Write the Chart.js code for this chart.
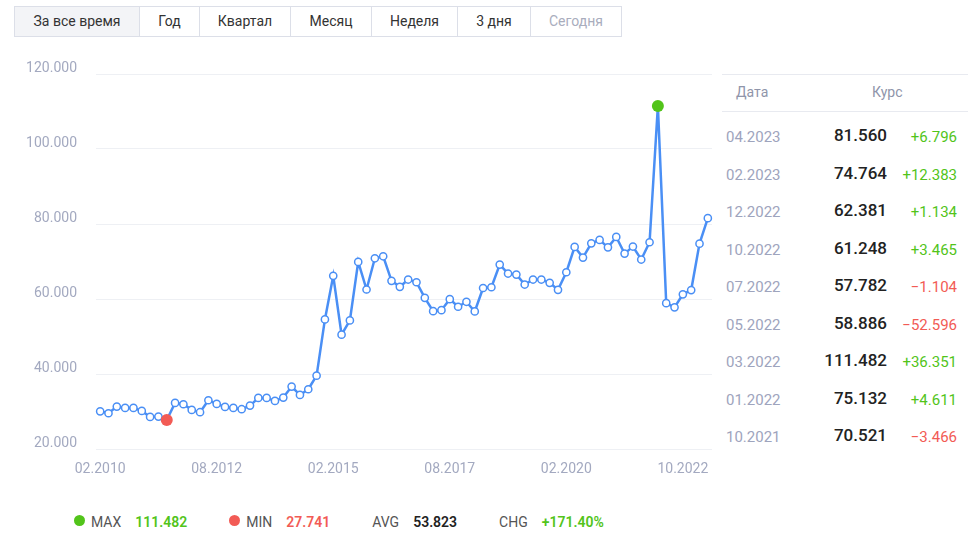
<!DOCTYPE html>
<html>
<head>
<meta charset="utf-8">
<script src="https://cdn.jsdelivr.net/npm/chart.js@4/dist/chart.umd.min.js"></script>
<style>
  body { margin: 0; background: #fff; font-family: Roboto, "Noto Sans", Arial, sans-serif; width: 971px; height: 545px; position: relative; overflow: hidden; }
  #tabs { position: absolute; left: 14px; top: 6px; display: flex; border: 1px solid #dcdfe8; }
  #tabs div { height: 29px; line-height: 29px; text-align: center; font-size: 14px; color: #333; border-left: 1px solid #dcdfe8; }
  #tabs div:first-child { border-left: none; background: #f3f4f7; }
  #tabs div.off { color: #a9adbd; }
  #chart-wrap { position: absolute; left: 0; top: 50px; width: 720px; height: 440px; }
  #panel { position: absolute; left: 722px; top: 74px; width: 246px; border-top: 1px solid #e8eaf0; }
  #panel .head { height: 36px; border-bottom: 1px solid #e8eaf0; position: relative; font-size: 14px; color: #8f95aa; }
  #panel .head span { position: absolute; top: 9px; }
  #rows { padding-top: 6px; }
  .row { height: 37.5px; position: relative; }
  .row span { position: absolute; top: 9px; white-space: nowrap; }
  .row .d { left: 4px; font-size: 15px; color: #9ea4bd; top: 10px; }
  .row .v { right: 81px; font-size: 17px; font-weight: 500; color: #222; top: 7px; }
  .row .c { right: 11px; font-size: 15px; top: 10px; }
  #stats { position: absolute; left: 74px; top: 514px; font-size: 14px; color: #555; display: flex; align-items: center; }
  #stats .dot { width: 11px; height: 11px; border-radius: 50%; display: inline-block; margin-right: 6px; position: relative; top: -2px; }
  #stats b { font-weight: 600; margin-left: 14px; margin-right: 42px; }
</style>
</head>
<body>
<div id="tabs"></div>
<div id="chart-wrap"><canvas id="chart" width="720" height="440"></canvas></div>
<div id="panel">
  <div class="head"><span style="left:14px">Дата</span><span style="left:150px">Курс</span></div>
  <div id="rows"></div>
</div>
<div id="stats"></div>
<script>
// вкладки периода
const tabNames = ["За все время", "Год", "Квартал", "Месяц", "Неделя", "3 дня", "Сегодня"];
const tabWidths = [124, 59, 90, 80, 85, 72, 90];

// курс, точка за точкой (02.2010 -> 04.2023)
const rates = [
  30.05, 29.54, 31.32, 30.95, 30.95, 30.16, 28.56, 28.65, 27.741, 32.29,
  31.94, 30.43, 29.81, 33.00, 32.03, 31.23, 30.95, 30.61, 31.58, 33.62,
  33.62, 32.82, 33.71, 36.64, 34.42, 35.93, 39.56, 54.55, 66.17, 50.48,
  54.28, 69.90, 62.53, 70.86, 71.39, 64.85, 63.25, 65.19, 64.47, 60.32,
  56.76, 57.02, 59.95, 57.93, 59.26, 56.68, 62.93, 63.14, 69.18, 66.79,
  66.52, 63.86, 65.19, 65.19, 64.31, 62.45, 67.13, 73.89, 71.04, 74.85,
  75.75, 73.78, 76.55, 72.11, 73.987, 70.521, 75.132, 111.482, 58.886, 57.782,
  61.248, 62.381, 74.764, 81.560
];
const tickLabels = ["02.2010", "08.2012", "02.2015", "08.2017", "02.2020", "10.2022"];
const tickEvery = 14;

// таблица справа (последние точки)
const tableDates = ["04.2023", "02.2023", "12.2022", "10.2022", "07.2022", "05.2022", "03.2022", "01.2022", "10.2021"];
const tableChanges = [6.796, 12.383, 1.134, 3.465, -1.104, -52.596, 36.351, 4.611, -3.466];

// итоги под графиком
const statNames = ["MAX", "MIN", "AVG", "CHG"];
const statValues = ["111.482", "27.741", "53.823", "+171.40%"];

const GREEN = "#52c41a";
const RED = "#f25b55";

// Вкладки
const tabs = document.getElementById("tabs");
tabNames.forEach((t, i) => {
    let d = document.createElement("div");
    d.textContent = t;
    d.style.width = tabWidths[i] + "px";
    if (i === tabNames.length - 1) d.className = "off";
    tabs.appendChild(d);
});

// Таблица
let rowsHtml = "";
tableDates.forEach((date, k) => {
    const i = rates.length - 1 - k;
    const diff = tableChanges[k];
    const col = diff >= 0 ? GREEN : RED;
    const sign = diff >= 0 ? "+" : "\u2212";
    rowsHtml += `<div class="row">
        <span class="d">${date}</span>
        <span class="v">${rates[i].toFixed(3)}</span>
        <span class="c" style="color:${col}">${sign}${Math.abs(diff).toFixed(3)}</span>
    </div>`;
});
document.getElementById("rows").innerHTML = rowsHtml;

// Итоги
const statColors = [GREEN, RED, "#222", GREEN];
let statsHtml = "";
statNames.forEach((n, i) => {
    let dot = "";
    if (i === 0) dot = `<span class="dot" style="background:${GREEN}"></span>`;
    if (i === 1) dot = `<span class="dot" style="background:${RED}"></span>`;
    statsHtml += `${dot}<span>${n}</span><b style="color:${statColors[i]}">${statValues[i]}</b>`;
});
document.getElementById("stats").innerHTML = statsHtml;

// График
const maxIdx = rates.indexOf(Math.max(...rates));
const minIdx = rates.indexOf(Math.min(...rates));

const ctx = document.getElementById("chart").getContext("2d");
new Chart(ctx, {
    type: "line",
    data: {
        labels: rates.map((_, i) => i),
        datasets: [{
            data: rates,
            borderColor: "#4a8ff5",
            borderWidth: 2.5,
            tension: 0,
            pointRadius: c => (c.dataIndex === maxIdx || c.dataIndex === minIdx) ? 6 : 3.6,
            pointBorderWidth: c => (c.dataIndex === maxIdx || c.dataIndex === minIdx) ? 0 : 1.5,
            pointBackgroundColor: c => c.dataIndex === maxIdx ? GREEN : (c.dataIndex === minIdx ? RED : "#fff"),
            pointBorderColor: c => c.dataIndex === maxIdx ? GREEN : (c.dataIndex === minIdx ? RED : "#4a8ff5")
        }]
    },
    options: {
        responsive: false,
        animation: false,
        layout: { padding: { top: 24, right: 8, bottom: 0 } },
        plugins: { legend: { display: false }, tooltip: { enabled: false } },
        scales: {
            x: {
                offset: true,
                grid: { display: false },
                border: { display: false },
                afterFit: s => { s.height = 41; },
                ticks: {
                    autoSkip: false,
                    maxRotation: 0,
                    padding: 4,
                    color: "#a3a9c0",
                    font: { family: "Roboto", size: 14 },
                    callback: (v, i) => i % tickEvery === 0 ? tickLabels[i / tickEvery] : null
                }
            },
            y: {
                min: 20,
                max: 120,
                afterFit: s => { s.width = 96; s.paddingTop = 0; s.paddingBottom = 0; },
                grid: { color: "#eef0f4", drawTicks: false },
                border: { display: false },
                ticks: {
                    stepSize: 20,
                    padding: 19,
                    labelOffset: -6,
                    color: "#a3a9c0",
                    font: { family: "Roboto", size: 14 },
                    callback: v => v.toFixed(3)
                }
            }
        }
    }
});
</script>
</body>
</html>
